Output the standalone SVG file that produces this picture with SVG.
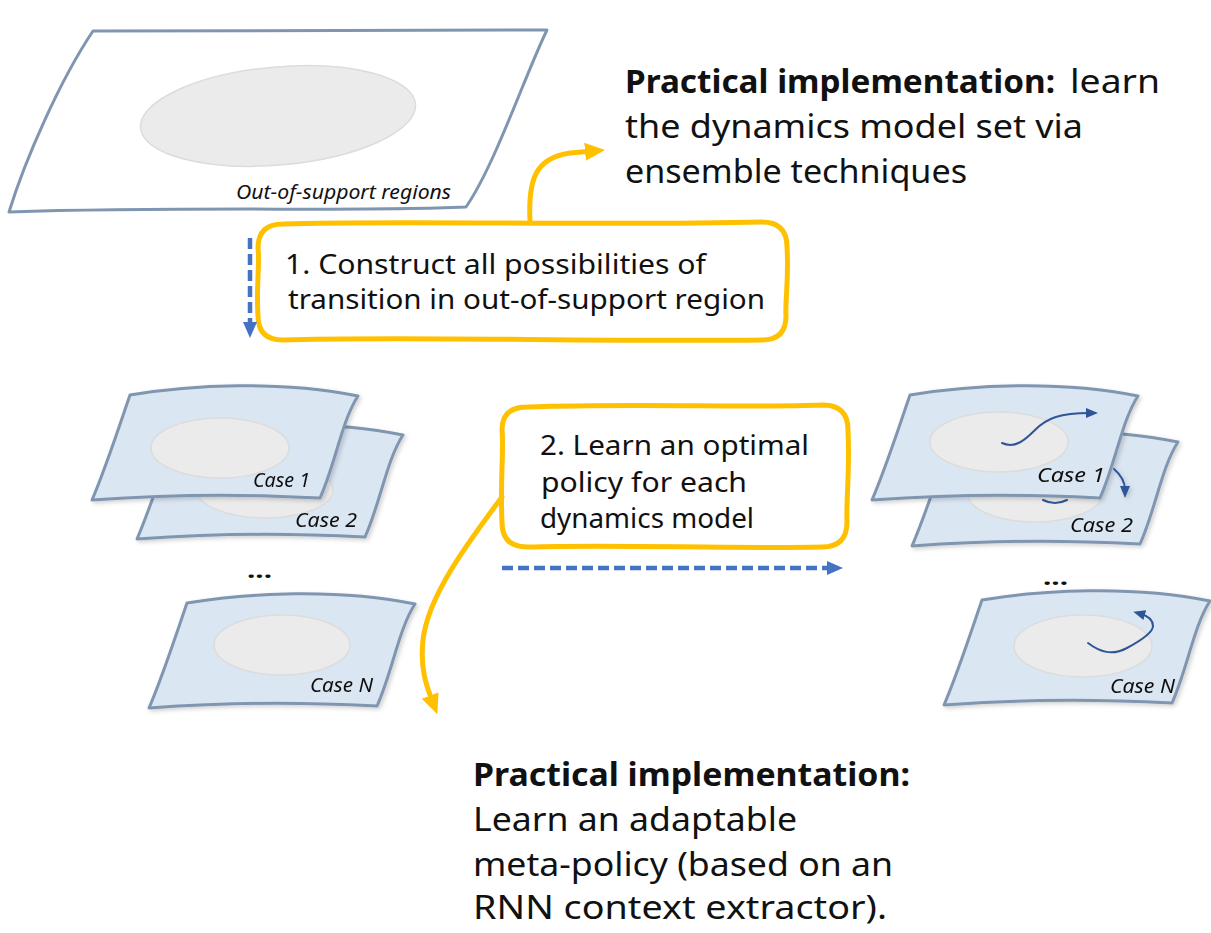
<svg xmlns="http://www.w3.org/2000/svg" xmlns:xlink="http://www.w3.org/1999/xlink" width="1211" height="933" viewBox="0 0 1211 933">
  <style>
    .txt { font-family: "Noto Sans", "DejaVu Sans", sans-serif; fill: #111; }
    .big { font-size: 33px; }
    .box { font-size: 28px; }
    .bold { font-weight: bold; }
    .lbl { font-family: "Noto Sans", "DejaVu Sans", sans-serif; font-style: italic; font-size: 19px; fill: #111; }
    .sheet { fill: #dbe6f3; stroke: #8096b0; stroke-width: 3; stroke-linejoin: round; }
    .blob { fill: #ebebeb; stroke: #dcdcdc; stroke-width: 1.5; }
    .frame { fill: #ffffff; stroke: #ffc000; stroke-width: 5; stroke-linejoin: round; }
    .gold { fill: none; stroke: #ffc000; stroke-width: 5; stroke-linecap: round; }
    .dash { fill: none; stroke: #4472c4; stroke-width: 4.5; stroke-dasharray: 11 5; }
    .traj { fill: none; stroke: #2f5597; stroke-width: 2; stroke-linecap: round; }
  </style>
  <defs>
    <filter id="soft" x="-10%" y="-10%" width="125%" height="130%">
      <feDropShadow dx="2" dy="2" stdDeviation="2" flood-color="#000" flood-opacity="0.18"/>
    </filter>
    <!-- one case sheet, top-left corner at the origin -->
    <path id="sheet" class="sheet" d="M0,0 C60,-10 150,-15 228,1 C212,25 205,70 190,103 C130,100 60,98 -38,105 C-25,75 -12,35 0,0 Z"/>
    <marker id="goldHead" markerUnits="userSpaceOnUse" markerWidth="20" markerHeight="20" viewBox="0 0 20 20" refX="8" refY="10" orient="auto">
      <path d="M0,1 L20,10 L0,19 Z" fill="#ffc000"/>
    </marker>
    <marker id="blueHead" markerUnits="userSpaceOnUse" markerWidth="16" markerHeight="14" viewBox="0 0 16 14" refX="4" refY="7" orient="auto">
      <path d="M0,0 L16,7 L0,14 Z" fill="#4472c4"/>
    </marker>
    <marker id="trajHead" markerUnits="userSpaceOnUse" markerWidth="12" markerHeight="10" viewBox="0 0 12 10" refX="4" refY="5" orient="auto">
      <path d="M0,0 L12,5 L0,10 Z" fill="#2f5597"/>
    </marker>
  </defs>

  <rect width="1211" height="933" fill="#ffffff"/>

  <!-- full state space with the data-support blob -->
  <g id="support-space">
    <path d="M93,31 L547,30 C525,75 495,165 466,207 C350,212 200,206 9,212 C25,160 60,80 93,31 Z" fill="#ffffff" stroke="#8096b0" stroke-width="3" stroke-linejoin="round"/>
    <ellipse class="blob" cx="278" cy="116" rx="138" ry="49" transform="rotate(-5 278 116)"/>
    <text class="lbl" x="236" y="199" textLength="215" lengthAdjust="spacingAndGlyphs">Out-of-support regions</text>
  </g>

  <!-- step 1 -->
  <g id="step1">
    <path class="frame" d="M283,224 C400,220 600,226 762,222 Q787,222 787,247 C789,280 785,300 786,316 Q786,340 762,340 C600,342 400,336 283,340 Q258,340 258,316 C256,290 260,260 258,248 Q258,224 283,224 Z"/>
    <text class="txt box" x="285" y="274" textLength="421" lengthAdjust="spacingAndGlyphs">1. Construct all possibilities of</text>
    <text class="txt box" x="288" y="309" textLength="477" lengthAdjust="spacingAndGlyphs">transition in out-of-support region</text>
  </g>

  <!-- note on the dynamics model set -->
  <g id="note-ensemble">
    <text class="txt big bold" x="625" y="93" textLength="430" lengthAdjust="spacingAndGlyphs">Practical implementation:</text>
    <text class="txt big" x="1070" y="93" textLength="90" lengthAdjust="spacingAndGlyphs">learn</text>
    <text class="txt big" x="625" y="138" textLength="458" lengthAdjust="spacingAndGlyphs">the dynamics model set via</text>
    <text class="txt big" x="625" y="183" textLength="342" lengthAdjust="spacingAndGlyphs">ensemble techniques</text>
  </g>

  <!-- dynamics models, left column -->
  <g id="model-case2" filter="url(#soft)">
    <use xlink:href="#sheet" href="#sheet" transform="translate(175,434)"/>
    <ellipse class="blob" cx="265" cy="490" rx="68" ry="28"/>
    <text class="lbl" x="295" y="527" textLength="62" lengthAdjust="spacingAndGlyphs">Case 2</text>
  </g>
  <g id="model-case1" filter="url(#soft)">
    <use xlink:href="#sheet" href="#sheet" transform="translate(130,395)"/>
    <ellipse class="blob" cx="220" cy="448" rx="69" ry="30"/>
    <text class="lbl" x="253" y="487" textLength="57" lengthAdjust="spacingAndGlyphs">Case 1</text>
  </g>
  <g id="model-dots">
    <text class="txt bold" x="247" y="578" font-size="22" textLength="25" lengthAdjust="spacingAndGlyphs">...</text>
  </g>
  <g id="model-caseN" filter="url(#soft)">
    <use xlink:href="#sheet" href="#sheet" transform="translate(187,603)"/>
    <ellipse class="blob" cx="282" cy="645" rx="68" ry="30"/>
    <text class="lbl" x="310" y="692" textLength="63" lengthAdjust="spacingAndGlyphs">Case N</text>
  </g>

  <!-- step 2 -->
  <g id="step2">
    <path class="frame" d="M527,407 C640,403 740,408 823,405 Q848,405 848,430 C850,470 846,500 847,522 Q847,547 822,547 C720,549 620,544 527,547 Q502,547 502,522 C500,480 504,450 502,430 Q502,407 527,407 Z"/>
    <text class="txt box" x="540" y="455" textLength="269" lengthAdjust="spacingAndGlyphs">2. Learn an optimal</text>
    <text class="txt box" x="541" y="492" textLength="206" lengthAdjust="spacingAndGlyphs">policy for each</text>
    <text class="txt box" x="540" y="528" textLength="214" lengthAdjust="spacingAndGlyphs">dynamics model</text>
  </g>

  <!-- optimal policies, right column -->
  <g id="policy-case2" filter="url(#soft)">
    <use xlink:href="#sheet" href="#sheet" transform="translate(950,441)"/>
    <ellipse class="blob" cx="1035" cy="494" rx="67" ry="28"/>
    <path class="traj" d="M1043,500 Q1055,506 1067,500"/>
    <text class="lbl" x="1070" y="532" textLength="63" lengthAdjust="spacingAndGlyphs">Case 2</text>
  </g>
  <g id="policy-case1" filter="url(#soft)">
    <use xlink:href="#sheet" href="#sheet" transform="translate(910,395)"/>
    <ellipse class="blob" cx="999" cy="442" rx="69" ry="30"/>
    <path class="traj" d="M1002,443 C1015,449 1025,440 1035,430 C1047,418 1060,413 1090,413" marker-end="url(#trajHead)"/>
    <path class="traj" d="M1114,469 C1121,475 1125,482 1125,490" marker-end="url(#trajHead)"/>
    <text class="lbl" x="1037" y="482" textLength="68" lengthAdjust="spacingAndGlyphs">Case 1</text>
  </g>
  <g id="policy-dots">
    <text class="txt bold" x="1043" y="585" font-size="22" textLength="25" lengthAdjust="spacingAndGlyphs">...</text>
  </g>
  <g id="policy-caseN" filter="url(#soft)">
    <use xlink:href="#sheet" href="#sheet" transform="translate(982,600)"/>
    <ellipse class="blob" cx="1083" cy="646" rx="69" ry="31"/>
    <path class="traj" d="M1088,643 C1100,652 1112,656 1127,648 C1140,641 1153,633 1153,626 C1153,620 1148,616 1141,614" marker-end="url(#trajHead)"/>
    <text class="lbl" x="1110" y="693" textLength="65" lengthAdjust="spacingAndGlyphs">Case N</text>
  </g>

  <!-- note on the meta-policy -->
  <g id="note-meta">
    <text class="txt big bold" x="473" y="786" textLength="437" lengthAdjust="spacingAndGlyphs">Practical implementation:</text>
    <text class="txt big" x="473" y="831" textLength="324" lengthAdjust="spacingAndGlyphs">Learn an adaptable</text>
    <text class="txt big" x="473" y="876" textLength="420" lengthAdjust="spacingAndGlyphs">meta-policy (based on an</text>
    <text class="txt big" x="473" y="919" textLength="414" lengthAdjust="spacingAndGlyphs">RNN context extractor).</text>
  </g>

  <!-- connectors -->
  <g id="connectors">
    <path class="dash" d="M250,238 L250,326" marker-end="url(#blueHead)"/>
    <path class="dash" d="M502,568 L831,568" marker-end="url(#blueHead)"/>
    <path class="gold" d="M530,221 C528,180 535,158 570,153 L593,151" marker-end="url(#goldHead)"/>
    <path class="gold" d="M502,497 C470,540 428,595 423,640 C420,668 426,685 433,703" marker-end="url(#goldHead)"/>
  </g>
</svg>
